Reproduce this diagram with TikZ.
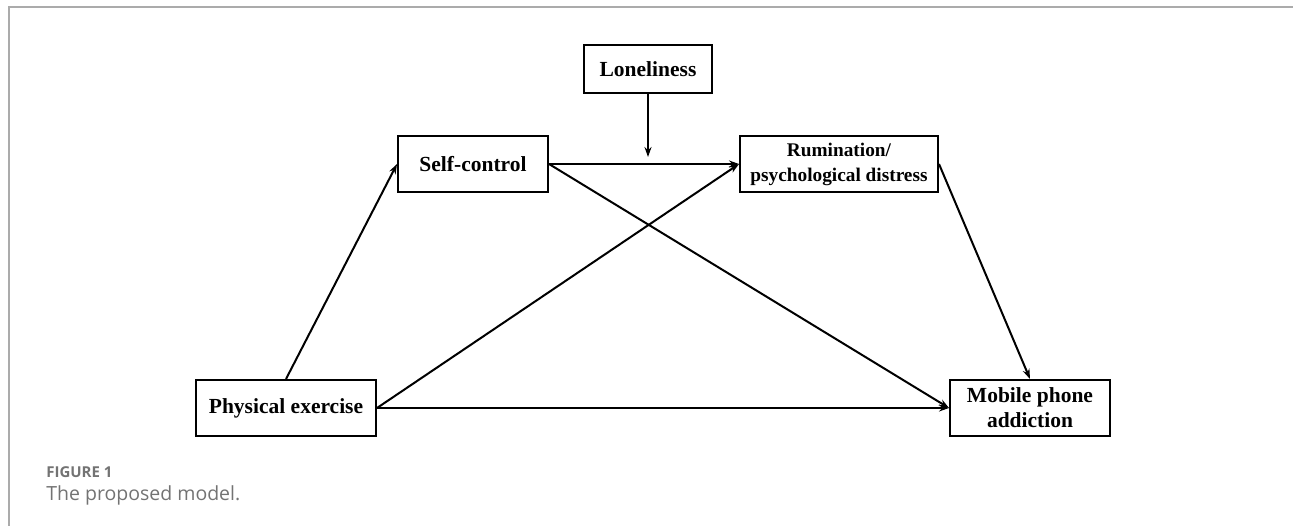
\documentclass[tikz,border=0pt]{standalone}
\usepackage{fontspec}
\setmainfont{Liberation Serif}
\newfontfamily\capfont{Open Sans}
\usetikzlibrary{positioning, arrows.meta}

\begin{document}
\begin{tikzpicture}[x=1pt, y=-1pt, line width=2pt]
            \tikzset{
                ->, % directed connectors
                >={Stealth[length=10pt, width=7pt]}, % sharper arrow tip
                every edge/.style={draw, line width=2pt}, % connector lines
                every node/.style={font=\bfseries\fontsize{21.5}{25}\selectfont, align=center}, % box text
                var/.style={draw, rectangle, inner sep=0pt, minimum height=56pt}, % a variable box
                frameline/.style={-, draw=black!33, line width=2pt}, % page frame
            }

            \useasboundingbox (0,0) rectangle (1293,526);
            \draw[frameline] (1293,7) -- (9,7) -- (9,526);

            \node[var, minimum width=180pt] (pe) at (286,408) {Physical exercise};
            \node[var, minimum width=150pt] (sc) at (473,164) {Self-control};
            \node[var, minimum width=198pt, font=\bfseries\fontsize{19.3}{25}\selectfont] (rum) at (839,164) {Rumination/\\psychological distress};
            \node[var, minimum width=160pt] (mpa) at (1030,408) {Mobile phone\\addiction};
            \node[var, minimum width=128pt, minimum height=48pt] (lon) at (648,69) {Loneliness};
            \coordinate (mod) at (648,157);

            \path
            (pe.north) edge (sc.west)
            (sc.east) edge (rum.west)
            (lon.south) edge (mod)
            (pe.east) edge (rum.west)
            (sc.east) edge (mpa.west)
            (pe.east) edge (mpa.west)
            (rum.east) edge (mpa.north);

            \node[anchor=base west, font=\capfont\bfseries\fontsize{15}{16}\selectfont, text=black!55] (fig) at (42,477) {FIGURE 1};
            \node[anchor=base west, font=\capfont\fontsize{19.5}{22}\selectfont, text=black!55] (cap) at (42,500) {The proposed model.};
        \end{tikzpicture}
\end{document}
